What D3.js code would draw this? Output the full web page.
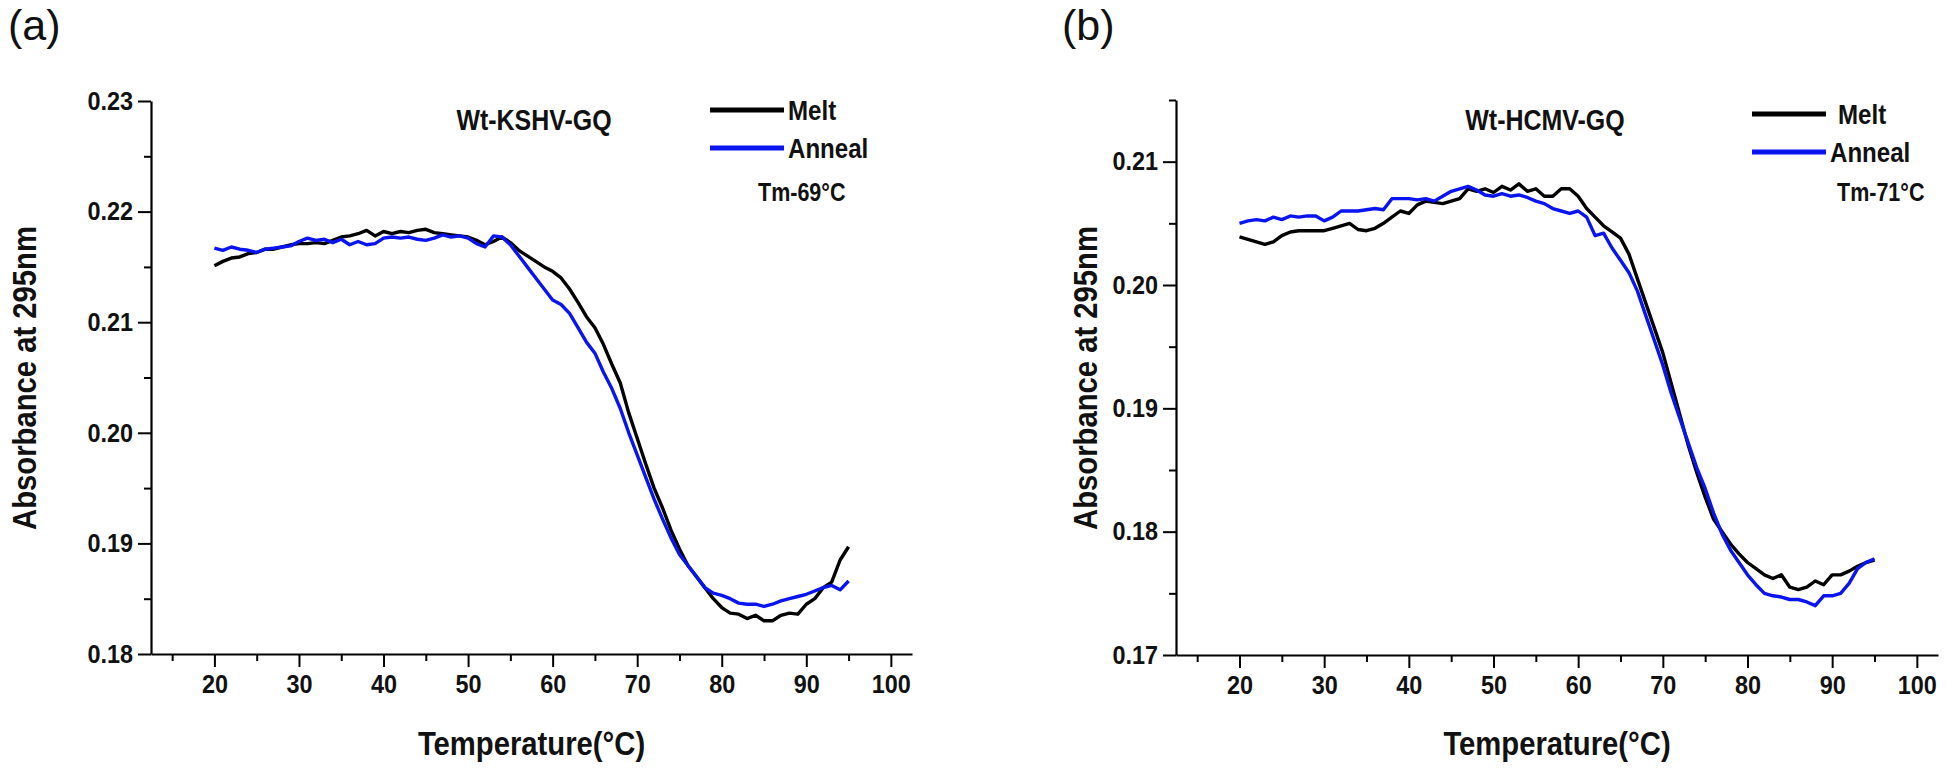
<!DOCTYPE html>
<html>
<head>
<meta charset="utf-8">
<script src="https://cdn.jsdelivr.net/npm/d3@7"></script>
<style>
  body { margin: 0; background: #fff; }
  svg text { font-family: 'Liberation Sans', Arial, sans-serif; fill: #111; }
  .tick-label { font-size: 26px; font-weight: bold; }
  .axis-title { font-size: 34px; font-weight: bold; }
  .panel-title { font-size: 29px; font-weight: bold; }
  .legend-text { font-size: 28px; font-weight: bold; }
  .tm-text { font-size: 25px; font-weight: bold; }
  .panel-tag { font-size: 43px; }
</style>
</head>
<body>
<div id="chart"></div>
<script>
// temperatures (°C), one reading per degree
const temps = d3.range(20, 96);

// (a) Wt-KSHV-GQ
const meltA = [
  .2151, .2155, .2158, .2159, .2162, .2163, .2166, .2166, .2168, .2170,
  .2171, .2171, .2172, .2171, .2174, .2177, .2178, .2180, .2183, .2178,
  .2182, .2180, .2182, .2181, .2183, .2184, .2181, .2180, .2179, .2178,
  .2177, .2174, .2170, .2173, .2177, .2172, .2165, .2160, .2155, .2150,
  .2146, .2140, .2130, .2118, .2105, .2095, .2080, .2062, .2045, .2018,
  .1995, .1972, .1950, .1932, .1912, .1895, .1880, .1870, .1860, .1850,
  .1842, .1837, .1836, .1832, .1835, .1830, .1830, .1835, .1837, .1836,
  .1845, .1850, .1860, .1865, .1885, .1897
];
const annealA = [
  .2167, .2165, .2168, .2166, .2165, .2163, .2166, .2167, .2168, .2169,
  .2173, .2176, .2174, .2175, .2172, .2175, .2170, .2173, .2170, .2171,
  .2176, .2177, .2176, .2177, .2175, .2174, .2176, .2179, .2177, .2178,
  .2176, .2171, .2168, .2178, .2177, .2170, .2160, .2150, .2140, .2130,
  .2120, .2116, .2108, .2095, .2082, .2072, .2055, .2040, .2022, .2000,
  .1980, .1960, .1940, .1922, .1905, .1890, .1880, .1870, .1860, .1855,
  .1853, .1850, .1846, .1845, .1845, .1843, .1845, .1848, .1850, .1852,
  .1854, .1857, .1860, .1862, .1858, .1866
];

// (b) Wt-HCMV-GQ
const meltB = [
  .2039, .2037, .2035, .2033, .2035, .2040, .2043, .2044, .2044, .2044,
  .2044, .2046, .2048, .2050, .2045, .2044, .2046, .2050, .2055, .2060,
  .2058, .2065, .2068, .2067, .2066, .2068, .2070, .2078, .2076, .2078,
  .2075, .2080, .2077, .2082, .2076, .2078, .2072, .2072, .2078, .2078,
  .2072, .2062, .2055, .2048, .2043, .2038, .2025, .2005, .1985, .1965,
  .1945, .1920, .1895, .1870, .1848, .1828, .1810, .1800, .1790, .1782,
  .1775, .1770, .1765, .1762, .1765, .1755, .1753, .1755, .1760, .1757,
  .1765, .1765, .1768, .1772, .1775, .1777
];
const annealB = [
  .2050, .2052, .2053, .2052, .2055, .2053, .2056, .2055, .2056, .2056,
  .2052, .2055, .2060, .2060, .2060, .2061, .2062, .2061, .2070, .2070,
  .2070, .2069, .2070, .2068, .2072, .2076, .2078, .2080, .2077, .2073,
  .2072, .2074, .2072, .2073, .2071, .2068, .2066, .2062, .2060, .2058,
  .2060, .2055, .2040, .2042, .2030, .2020, .2010, .1995, .1975, .1955,
  .1935, .1912, .1892, .1872, .1852, .1835, .1815, .1798, .1785, .1775,
  .1765, .1757, .1750, .1748, .1747, .1745, .1745, .1743, .1740, .1748,
  .1748, .1750, .1758, .1770, .1775, .1778
];

// axis ticks
const xTicks = [20, 30, 40, 50, 60, 70, 80, 90, 100];
const yTicksA = [0.18, 0.19, 0.20, 0.21, 0.22, 0.23];
const yTicksB = [0.17, 0.18, 0.19, 0.20, 0.21];

const seriesNames = ['Melt', 'Anneal'];
const seriesColors = ['#000000', '#0a14f0'];

const svg = d3.select('#chart').append('svg')
    .attr('width', 1946)
    .attr('height', 770);

// the original figure uses a narrow-looking bold face: squeeze the glyphs
function condense(sel, k){
    sel.each(function(){
        const w = this.getComputedTextLength();
        d3.select(this).attr('textLength', w * k).attr('lengthAdjust', 'spacingAndGlyphs');
    });
}

function drawPanel(p){
    const x = d3.scaleLinear([12.5, 102.5], [p.left, p.right]);
    const y = d3.scaleLinear(p.yDomain, [p.bottom, p.top]);
    const g = svg.append('g');

    // minor ticks first, then major ones on top
    const xMinor = d3.range(15, 101, 10);
    const yMinor = d3.range(p.yDomain[0] + 0.005, p.yDomain[1] + 0.0001, 0.01);

    g.append('g')
        .attr('transform', `translate(0,${p.bottom})`)
        .call(d3.axisBottom(x).tickValues(xMinor).tickSize(7).tickFormat(''))
        .call(a => a.select('.domain').remove())
        .selectAll('line').attr('stroke-width', 2);
    g.append('g')
        .attr('transform', `translate(${p.left},0)`)
        .call(d3.axisLeft(y).tickValues(yMinor).tickSize(7).tickFormat(''))
        .call(a => a.select('.domain').remove())
        .selectAll('line').attr('stroke-width', 2);

    const ax = g.append('g')
        .attr('transform', `translate(0,${p.bottom})`)
        .call(d3.axisBottom(x).tickValues(xTicks).tickSize(13).tickSizeOuter(0).tickPadding(8));
    ax.select('.domain').attr('stroke-width', 2.2);
    ax.selectAll('.tick line').attr('stroke-width', 2);
    ax.selectAll('.tick text').attr('class', 'tick-label').attr('fill', '#111');

    const ay = g.append('g')
        .attr('transform', `translate(${p.left},0)`)
        .call(d3.axisLeft(y).tickValues(p.yTicks).tickSize(13).tickSizeOuter(0).tickPadding(5)
            .tickFormat(d3.format('.2f')));
    ay.select('.domain').attr('stroke-width', 2.2);
    ay.selectAll('.tick line').attr('stroke-width', 2);
    ay.selectAll('.tick text').attr('class', 'tick-label').attr('fill', '#111');

    // curves
    const line = d3.line().x((d, i) => x(temps[i])).y(d => y(d));
    [p.melt, p.anneal].forEach((vals, i) => {
        g.append('path')
            .datum(vals)
            .attr('fill', 'none')
            .attr('stroke', seriesColors[i])
            .attr('stroke-width', 3.4)
            .attr('stroke-linejoin', 'round')
            .attr('d', line);
    });

    // texts
    g.append('text').attr('class', 'panel-tag')
        .attr('x', p.tagX).attr('y', 40).text(p.tag);
    g.append('text').attr('class', 'panel-title')
        .attr('x', p.titleX).attr('y', 130)
        .attr('text-anchor', 'middle').text(p.title);
    g.append('text').attr('class', 'axis-title')
        .attr('x', (p.left + p.right) / 2).attr('y', 755)
        .attr('text-anchor', 'middle').text('Temperature(°C)');
    g.append('text').attr('class', 'axis-title')
        .attr('transform', `translate(${p.yLabelX},${378})rotate(-90)`)
        .attr('text-anchor', 'middle').text('Absorbance at 295nm');

    // legend
    seriesNames.forEach((name, i) => {
        const ly = p.legendY + i * 38;
        g.append('line')
            .attr('x1', p.legendX).attr('x2', p.legendX + 74)
            .attr('y1', ly).attr('y2', ly)
            .attr('stroke', seriesColors[i]).attr('stroke-width', 5);
        g.append('text').attr('class', 'legend-text')
            .attr('x', p.legendX + 78 + (i === 0 ? p.meltShift : 0)).attr('y', ly + 10)
            .text(name);
    });
    g.append('text').attr('class', 'tm-text')
        .attr('x', p.tmX).attr('y', 201).text(p.tm);

    condense(g.selectAll('.tick-label'), 0.9);
    condense(g.selectAll('.axis-title, .panel-title, .legend-text, .tm-text'), 0.86);
}

drawPanel({
    left: 151, right: 912, top: 101, bottom: 654,
    yDomain: [0.18, 0.23], yTicks: yTicksA,
    melt: meltA, anneal: annealA,
    tag: '(a)', tagX: 8, title: 'Wt-KSHV-GQ', titleX: 534,
    yLabelX: 36, legendX: 710, legendY: 110, meltShift: 0,
    tm: 'Tm-69°C', tmX: 758
});

drawPanel({
    left: 1176, right: 1938, top: 100, bottom: 655,
    yDomain: [0.17, 0.215], yTicks: yTicksB,
    melt: meltB, anneal: annealB,
    tag: '(b)', tagX: 1062, title: 'Wt-HCMV-GQ', titleX: 1545,
    yLabelX: 1097, legendX: 1752, legendY: 114, meltShift: 8,
    tm: 'Tm-71°C', tmX: 1837
});
</script>
</body>
</html>
